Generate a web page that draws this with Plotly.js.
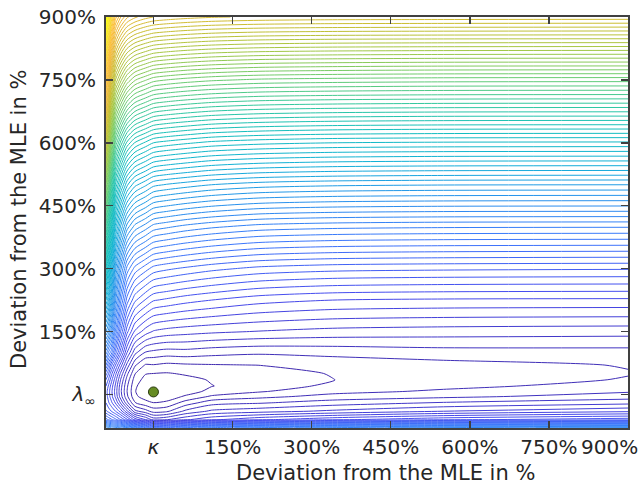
<!DOCTYPE html>
<html>
<head>
<meta charset="utf-8">
<script src="https://cdn.plot.ly/plotly-3.0.1.min.js"></script>
<style>html,body{margin:0;padding:0;background:#fff;}#chart{width:644px;height:485px;}</style>
</head>
<body>
<div id="chart"></div>
<script>
// Grid of deviations from the MLE (%)
var xDev = [-90, -85, -80, -72, -62, -50, -35, -15, 0, 25, 60, 110, 200, 340, 550, 900];
var yDev = [-80, -60, -40, -20, -5, 7, 20, 35, 50, 70, 100, 150, 225, 300, 400, 500, 600, 750, 900];
// Estimated surface value (in contour-level units) at each grid node; one row per yDev value
var zLevels = [
  [24.0, 23.5, 23.0, 22.5, 22.0, 21.5, 20.0, 18.5, 17.0, 17.5, 18.5, 19.5, 20.5, 21.5, 22.5, 23.5],
  [16.5, 15.8, 15.2, 14.3, 13.0, 11.2, 8.6, 7.0, 5.6, 5.9, 6.8, 7.8, 8.8, 9.8, 10.8, 11.6],
  [13.2, 12.6, 12.0, 11.0, 9.5, 7.2, 4.3, 3.4, 2.6, 2.8, 4.2, 5.2, 5.6, 6.2, 7.0, 7.8],
  [12.0, 11.1, 10.3, 8.9, 6.8, 4.3, 2.05, 1.35, 1.02, 1.18, 2.44, 3.6, 3.9, 4.5, 5.1, 5.7],
  [11.6, 10.5, 9.45, 7.8, 5.45, 3.21, 1.21, 0.55, 0.38, 0.52, 1.11, 2.17, 2.71, 3.36, 3.76, 4.5],
  [11.5, 10.4, 9.3, 7.6, 5.2, 3.0, 1.05, 0.35, 0.2, 0.31, 0.59, 1.24, 1.91, 2.69, 3.18, 3.9],
  [12.0, 10.8, 9.6, 7.8, 5.37, 3.14, 1.16, 0.41, 0.27, 0.33, 0.57, 0.97, 1.46, 2.22, 2.73, 3.41],
  [13.0, 11.8, 10.4, 8.4, 5.9, 3.56, 1.49, 0.65, 0.53, 0.54, 0.74, 1.07, 1.43, 1.98, 2.45, 3.07],
  [14.5, 13.0, 11.4, 9.3, 6.76, 4.27, 2.05, 1.06, 1.0, 0.93, 1.10, 1.33, 1.57, 2.06, 2.41, 2.95],
  [17.0, 15.2, 13.3, 11.0, 8.46, 5.64, 3.14, 1.88, 1.94, 1.75, 1.85, 1.93, 2.01, 2.36, 2.65, 3.05],
  [20.5, 18.8, 17.5, 14.5, 11.4, 8.0, 5.3, 3.9, 3.7, 3.5, 3.58, 3.36, 3.16, 3.31, 3.56, 3.6],
  [26.0, 24.5, 22.5, 18.8, 14.9, 11.3, 8.8, 7.5, 6.9, 6.6, 6.4, 6.2, 5.95, 5.65, 5.5, 5.4],
  [33.0, 30.8, 28.0, 23.2, 19.2, 15.5, 13.2, 11.9, 11.1, 10.8, 10.4, 10.0, 9.4, 9.0, 8.85, 8.8],
  [40.0, 36.3, 32.5, 27.2, 23.2, 19.6, 17.6, 16.4, 15.6, 15.2, 14.8, 14.3, 13.7, 13.35, 13.2, 13.1],
  [47.5, 43.5, 39.5, 33.5, 29.8, 26.5, 24.6, 23.5, 22.6, 22.2, 21.7, 21.2, 20.6, 20.3, 20.15, 20.1],
  [55.0, 51.0, 46.5, 40.8, 37.3, 34.2, 32.3, 31.2, 30.3, 29.9, 29.5, 29.0, 28.5, 28.2, 28.05, 28.0],
  [64.0, 59.5, 54.5, 48.8, 45.6, 42.7, 40.9, 39.8, 39.0, 38.6, 38.2, 37.7, 37.3, 37.0, 36.85, 36.8],
  [76.0, 72.0, 67.0, 62.0, 59.3, 56.8, 55.1, 54.1, 53.4, 53.0, 52.6, 52.2, 51.8, 51.6, 51.45, 51.4],
  [88.0, 84.0, 80.0, 75.5, 73.0, 71.2, 70.2, 69.4, 69.0, 68.7, 68.4, 68.1, 67.85, 67.7, 67.65, 67.6]
];
// MLE point
var mleX = [0];
var mleY = [6];
// Tick labels
var xTickVals = [0, 150, 300, 450, 600, 750];
var xTickText = ['<i>κ</i>', '150%', '300%', '450%', '600%', '750%'];
var yTickVals = [0, 150, 300, 450, 600, 750, 900];
var yTickText = ['<i>λ</i><sub>∞</sub>', '150%', '300%', '450%', '600%', '750%', '900%'];
var axisTitle = 'Deviation from the MLE in %';
var lastXTick = '900%';

var parula = [
  [0.00, 'rgb(62,38,168)'],
  [0.10, 'rgb(71,75,238)'],
  [0.20, 'rgb(60,120,252)'],
  [0.30, 'rgb(36,151,233)'],
  [0.37, 'rgb(18,177,214)'],
  [0.45, 'rgb(20,190,190)'],
  [0.52, 'rgb(50,200,160)'],
  [0.60, 'rgb(110,204,110)'],
  [0.68, 'rgb(165,200,70)'],
  [0.75, 'rgb(200,190,50)'],
  [0.82, 'rgb(235,185,60)'],
  [0.87, 'rgb(253,190,59)'],
  [0.93, 'rgb(246,218,45)'],
  [1.00, 'rgb(249,251,14)']
];

var txtColor = '#262626';
var frameColor = '#404040';
var fam = 'DejaVu Sans, sans-serif';

var traces = [
  {
    type: 'contour',
    x: xDev, y: yDev, z: zLevels,
    colorscale: parula,
    zauto: false, zmin: 0, zmax: 88,
    showscale: false,
    contours: {coloring: 'lines', start: 1, end: 87, size: 1},
    line: {width: 1, smoothing: 0.7},
    hoverinfo: 'skip'
  },
  {
    type: 'scatter', mode: 'markers',
    x: mleX, y: mleY,
    marker: {size: 10, color: 'rgb(102,140,35)', line: {color: '#2a3a10', width: 1}},
    hoverinfo: 'skip'
  }
];

var layout = {
  width: 644, height: 485,
  margin: {l: 106, r: 16, t: 17, b: 57},
  paper_bgcolor: '#ffffff', plot_bgcolor: '#ffffff',
  showlegend: false,
  font: {family: fam, size: 20, color: txtColor},
  xaxis: {
    range: [-90, 900], showgrid: false, zeroline: false,
    tickmode: 'array', tickvals: xTickVals, ticktext: xTickText,
    ticks: 'inside', ticklen: 7, tickwidth: 1.5, tickcolor: frameColor,
    showline: true, linecolor: frameColor, linewidth: 2, mirror: 'ticks',
    tickfont: {family: fam, size: 20, color: txtColor}
  },
  yaxis: {
    range: [-80, 900], showgrid: false, zeroline: false,
    tickmode: 'array', tickvals: yTickVals, ticktext: yTickText,
    ticks: 'inside', ticklen: 7, tickwidth: 1.5, tickcolor: frameColor,
    showline: true, linecolor: frameColor, linewidth: 2, mirror: 'ticks',
    tickfont: {family: fam, size: 20, color: txtColor},
    ticklabelstandoff: 4
  },
  annotations: [
    {xref: 'paper', yref: 'paper', x: 0.536, y: -0.11, xanchor: 'center', yanchor: 'middle',
     text: axisTitle, showarrow: false, font: {family: fam, size: 21, color: txtColor}},
    {xref: 'paper', yref: 'paper', x: -0.1667, y: 0.5085, xanchor: 'center', yanchor: 'middle',
     text: axisTitle, textangle: -90, showarrow: false, font: {family: fam, size: 21, color: txtColor}},
    {xref: 'paper', yref: 'paper', x: 0.9655, y: -0.046, xanchor: 'center', yanchor: 'middle',
     text: lastXTick, showarrow: false, font: {family: fam, size: 20, color: txtColor}}
  ]
};

Plotly.newPlot('chart', traces, layout, {displayModeBar: false, staticPlot: true});
</script>
</body>
</html>
